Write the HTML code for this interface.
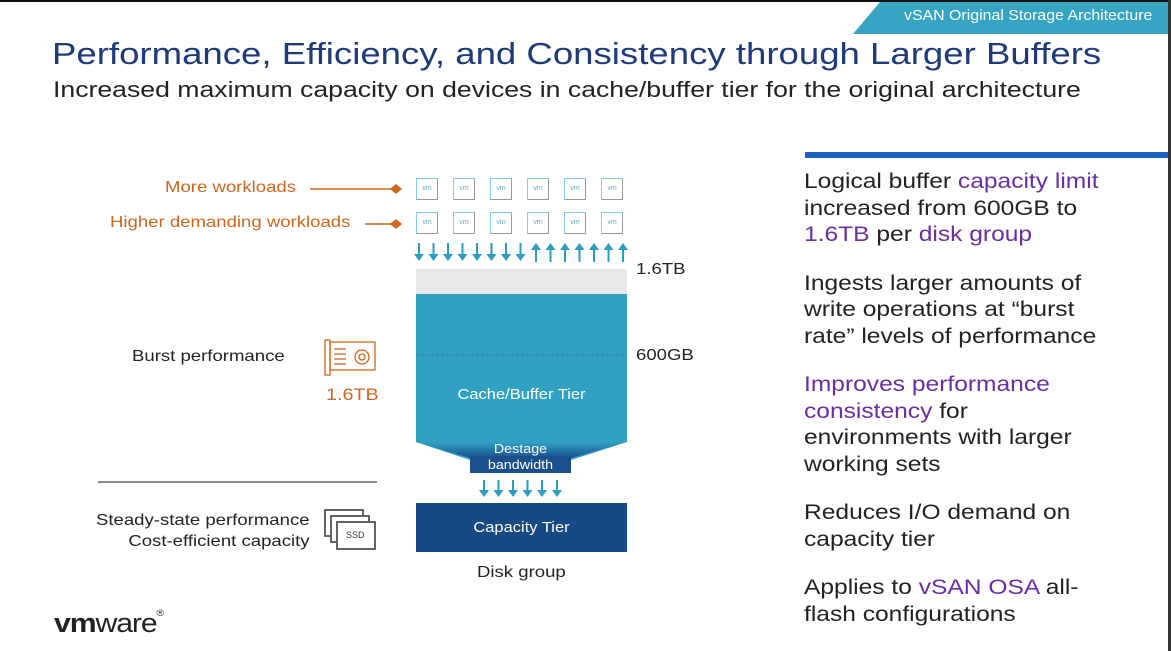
<!DOCTYPE html>
<html><head><style>
body{margin:0;width:1171px;height:651px;background:#fff;position:relative;overflow:hidden;font-family:"Liberation Sans",sans-serif}
.a{position:absolute;white-space:nowrap;transform-origin:left top}
.w{transform:scaleX(1.16)}
.c{transform:scaleX(1.1);transform-origin:center top}
.o{color:#d0661c}
.p{color:#6a2ea0}
.vm{position:absolute;width:20px;height:20px;border:1px solid #7fc9dd;border-color:#7fcfe0 #999 #999 #7fcfe0;font-size:7px;color:#6ab;text-align:center;line-height:20px}
</style></head><body>
<div class="a" style="left:0;top:0;width:1171px;height:2px;background:#111"></div>
<div class="a" style="right:0;top:0;width:3px;height:651px;background:#333"></div>
<svg class="a" style="left:0;top:0" width="1171" height="651">
<polygon points="880,2 1168,2 1168,34 853,34" fill="#37a4c4"/>
<line x1="805" y1="155" x2="1168" y2="155" stroke="#1f5fbf" stroke-width="6"/>
<line x1="310" y1="189" x2="395" y2="189" stroke="#d0661c" stroke-width="1.5"/>
<polygon points="390,189 396,184 402,189 396,194" fill="#d0661c"/>
<line x1="365" y1="224" x2="395" y2="224" stroke="#d0661c" stroke-width="1.5"/>
<polygon points="390,224 396,219 402,224 396,229" fill="#d0661c"/>
<g fill="#2b9dc0" stroke="#2b9dc0" stroke-width="2">
<g id="d"><line x1="419" y1="243" x2="419" y2="256"/><polygon points="414,254 424,254 419,261" stroke="none"/></g>
<use href="#d" x="14.5"/><use href="#d" x="29"/><use href="#d" x="43.5"/><use href="#d" x="58"/><use href="#d" x="72.5"/><use href="#d" x="87"/><use href="#d" x="101.5"/>
<g id="u"><line x1="536" y1="249" x2="536" y2="262"/><polygon points="531,250 541,250 536,243" stroke="none"/></g>
<use href="#u" x="14.5"/><use href="#u" x="29"/><use href="#u" x="43.5"/><use href="#u" x="58"/><use href="#u" x="72.5"/><use href="#u" x="87"/>
<g id="s"><line x1="484" y1="480" x2="484" y2="492"/><polygon points="479,490 489,490 484,497" stroke="none"/></g>
<use href="#s" x="14.5"/><use href="#s" x="29"/><use href="#s" x="43.5"/><use href="#s" x="58"/><use href="#s" x="73"/>
</g>
<rect x="416" y="269" width="211" height="25" fill="#e8e8ea"/>
<defs><linearGradient id="g" x1="0" y1="0" x2="0" y2="1"><stop offset="0" stop-color="#31a1c3"/><stop offset="1" stop-color="#1a4f8c"/></linearGradient></defs>
<polygon points="416,294 627,294 627,442 571,460 571,473 470,473 470,460 416,442" fill="#31a1c3"/>
<polygon points="416,442 627,442 571,458 470,458" fill="url(#g)"/>
<rect x="470" y="456" width="101" height="17" fill="#1a4f8c"/>
<line x1="416" y1="355" x2="627" y2="355" stroke="#2a7fa0" stroke-width="1" stroke-dasharray="3,2"/>
<rect x="416" y="503" width="211" height="49" fill="#174a82"/>
<line x1="98" y1="482" x2="377" y2="482" stroke="#444" stroke-width="1.2"/>
<g fill="none" stroke="#d0661c" stroke-width="1.3">
<rect x="325" y="340" width="5" height="35"/><rect x="330" y="342" width="45" height="28"/>
<circle cx="362" cy="357" r="7"/><circle cx="362" cy="357" r="3"/>
<line x1="334" y1="349" x2="346" y2="349"/><line x1="334" y1="354" x2="346" y2="354"/><line x1="334" y1="359" x2="346" y2="359"/><line x1="334" y1="364" x2="346" y2="364"/>
</g>
<g fill="#fff" stroke="#555" stroke-width="1.8">
<rect x="325" y="510" width="38" height="26"/><rect x="331" y="516" width="38" height="26"/><rect x="337" y="522" width="38" height="27"/>
</g>
</svg>
<div class="a" style="left:904px;top:7px;color:#fff;font-size:15px;transform:scaleX(1.06)">vSAN Original Storage Architecture</div>
<div class="a" style="left:52px;top:36px;color:#1e3a78;font-size:31px;transform:scaleX(1.18)">Performance, Efficiency, and Consistency through Larger Buffers</div>
<div class="a" style="left:53px;top:77px;color:#222;font-size:22px;transform:scaleX(1.21)">Increased maximum capacity on devices in cache/buffer tier for the original architecture</div>
<div class="a o w" style="left:165px;top:179px;font-size:16px">More workloads</div>
<div class="a o w" style="left:110px;top:214px;font-size:16px">Higher demanding workloads</div>
<div class="vm" style="left:416px;top:178px">vm</div><div class="vm" style="left:453px;top:178px">vm</div><div class="vm" style="left:490px;top:178px">vm</div><div class="vm" style="left:527px;top:178px">vm</div><div class="vm" style="left:564px;top:178px">vm</div><div class="vm" style="left:601px;top:178px">vm</div>
<div class="vm" style="left:416px;top:212px">vm</div><div class="vm" style="left:453px;top:212px">vm</div><div class="vm" style="left:490px;top:212px">vm</div><div class="vm" style="left:527px;top:212px">vm</div><div class="vm" style="left:564px;top:212px">vm</div><div class="vm" style="left:601px;top:212px">vm</div>
<div class="a w" style="left:636px;top:261px;font-size:16px;color:#222">1.6TB</div>
<div class="a w" style="left:636px;top:347px;font-size:16px;color:#222">600GB</div>
<div class="a w" style="left:132px;top:348px;font-size:16px;color:#222">Burst performance</div>
<div class="a o w" style="left:326px;top:385px;font-size:17px">1.6TB</div>
<div class="a c" style="left:416px;top:386px;width:211px;text-align:center;font-size:15px;color:#fff">Cache/Buffer Tier</div>
<div class="a c" style="left:470px;top:441px;width:101px;text-align:center;font-size:13px;color:#fff;line-height:16px;white-space:normal">Destage bandwidth</div>
<div class="a c" style="left:416px;top:519px;width:211px;text-align:center;font-size:15px;color:#fff">Capacity Tier</div>
<div class="a" style="left:346px;top:530px;font-size:9px;color:#333">SSD</div>
<div class="a w" style="left:477px;top:564px;font-size:16px;color:#222">Disk group</div>
<div class="a w" style="left:96px;top:510px;font-size:16px;color:#222;text-align:right;line-height:21px">Steady-state performance<br><span style="margin-left:16px">Cost-efficient capacity</span></div>
<div class="a" style="left:54px;top:608px;font-size:27px;color:#222;letter-spacing:-1px;transform:scaleX(1.12)"><b>vm</b>ware<span style="font-size:9px;vertical-align:top">®</span></div>
<div class="a" style="left:804px;top:169px;font-size:21px;color:#222;line-height:26.5px;white-space:normal;width:320px;transform:scaleX(1.17)">
Logical buffer <span class="p">capacity limit</span><br>increased from 600GB to<br><span class="p">1.6TB</span> per <span class="p">disk group</span>
<div style="height:22px"></div>
Ingests larger amounts of<br>write operations at “burst<br>rate” levels of performance
<div style="height:22px"></div>
<span class="p">Improves performance<br>consistency</span> for<br>environments with larger<br>working sets
<div style="height:22px"></div>
Reduces I/O demand on<br>capacity tier
<div style="height:22px"></div>
Applies to <span class="p">vSAN OSA</span> all-<br>flash configurations
</div>
</body></html>
